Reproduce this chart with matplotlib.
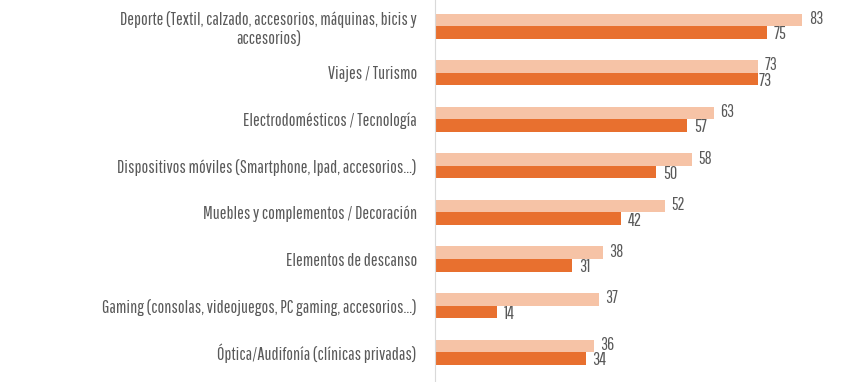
import matplotlib
matplotlib.use("Agg")
import matplotlib.pyplot as plt
import numpy as np

plt.rcParams['font.family'] = ['Pathway Gothic One', 'Barlow Condensed', 'DejaVu Sans']

categorias = ["Deporte (Textil, calzado, accesorios, máquinas, bicis y\naccesorios)",
              "Viajes / Turismo",
              "Electrodomésticos / Tecnología",
              "Dispositivos móviles (Smartphone, Ipad, accesorios...)",
              "Muebles y complementos / Decoración",
              "Elementos de descanso",
              "Gaming (consolas, videojuegos, PC gaming, accesorios...)",
              "Óptica/Audifonía (clínicas privadas)"]
serie_claro = [83, 73, 63, 58, 52, 38, 37, 36]
serie_oscuro = [75, 73, 57, 50, 42, 31, 14, 34]

claro = '#F6C3A6'
oscuro = '#E8702F'
gris = '#595959'

fig = plt.figure(figsize=(8.6, 3.82), dpi=100)
ax = fig.add_axes([435/860, 0, 1 - 435/860, 1])

y = np.arange(len(categorias))
h = 0.27
ax.barh(y - h/2, serie_claro, height=h, color=claro)
ax.barh(y + h/2, serie_oscuro, height=h, color=oscuro)

for i in range(len(categorias)):
    ax.text(serie_claro[i] + 1.4, y[i] - h/2 - 0.02, str(serie_claro[i]), va='center', ha='left',
            fontsize=12.5, color=gris)
    dx = 0.1 if serie_oscuro[i] == serie_claro[i] else 1.5
    ax.text(serie_oscuro[i] + dx, y[i] + h/2 + 0.04, str(serie_oscuro[i]), va='center', ha='left',
            fontsize=13, color=gris)

ax.set_xlim(0, 96)
ax.set_ylim(7.64, -0.56)
ax.set_yticks(y)
ax.set_yticklabels(categorias, fontsize=13, color=gris)
for t in ax.get_yticklabels():
    t.set_multialignment('center')
    t.set_linespacing(1.25)
ax.tick_params(axis='y', length=0, pad=13)
ax.set_xticks([])
for s in ['top', 'right', 'bottom']:
    ax.spines[s].set_visible(False)
ax.spines['left'].set_color('#D9D9D9')

fig.savefig('out.png', dpi=100)
